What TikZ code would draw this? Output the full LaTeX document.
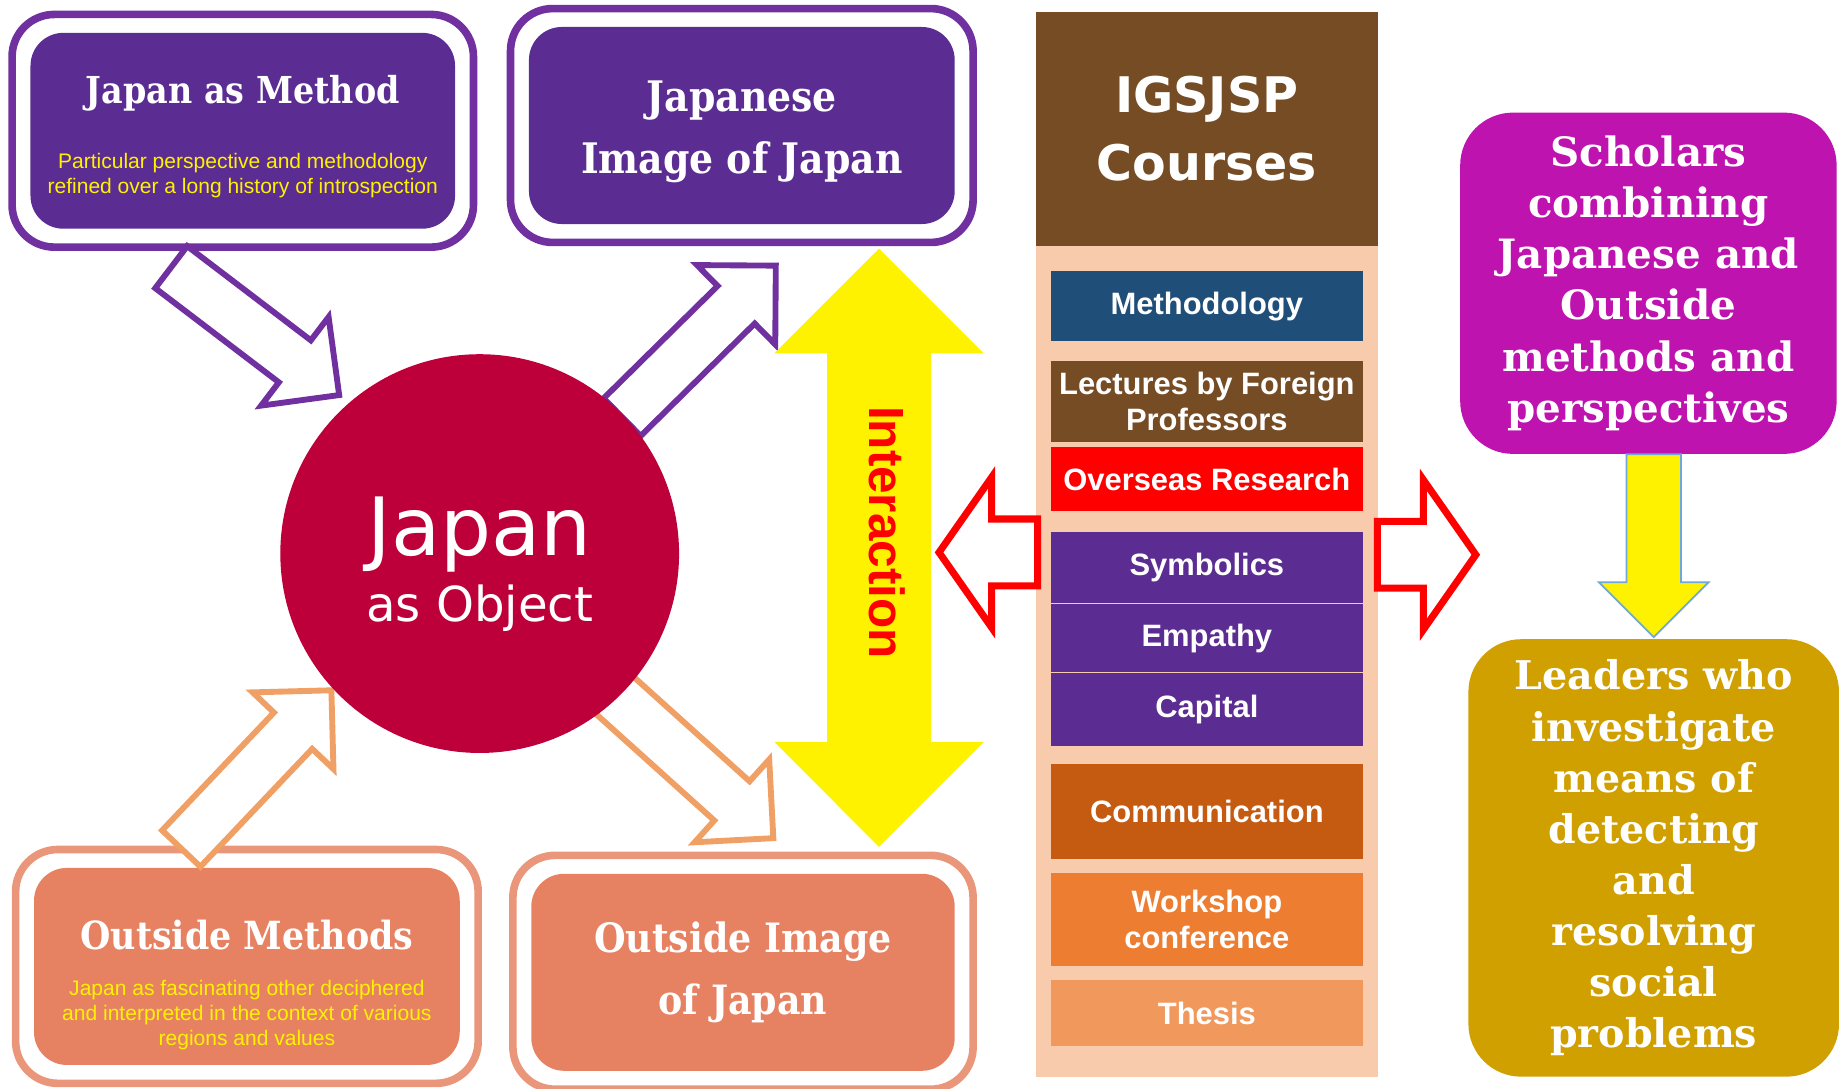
\documentclass[tikz,border=0pt]{standalone}
\usepackage{fontspec}
\setmainfont{DejaVu Serif}
\newfontfamily\serifhead[FakeStretch=0.9]{DejaVu Serif}
\newfontfamily\arialish{Liberation Sans}
\newfontfamily\verdanish{DejaVu Sans}
\usetikzlibrary{
	shapes,positioning,fit,calc
}
\definecolor{deeppurple}{HTML}{5B2C91}
\definecolor{linepurple}{HTML}{7030A0}
\definecolor{salmonfill}{HTML}{E68262}
\definecolor{salmonline}{HTML}{E9967A}
\definecolor{arrowsalmon}{HTML}{F0A064}
\definecolor{crimsonfill}{HTML}{BE003A}
\definecolor{peachfill}{HTML}{F8CBAD}
\definecolor{barkbrown}{HTML}{754C24}
\definecolor{methodblue}{HTML}{1F4E79}
\definecolor{rustfill}{HTML}{C55A11}
\definecolor{tangerine}{HTML}{ED7D31}
\definecolor{apricot}{HTML}{F1995D}
\definecolor{orchidfill}{HTML}{BE13AE}
\definecolor{mustardfill}{HTML}{D09F00}
\definecolor{paleblue}{HTML}{6FA8DC}
\newcommand{\notestyle}{\arialish\fontsize{5.1}{6.1}\selectfont}
\newcommand{\headstyle}[2]{\serifhead\bfseries\fontsize{#1}{#2}\selectfont}
\tikzset{
	auto,
	innerbox/.style={
		rectangle, rounded corners=2.8mm, inner sep=0pt, align=center, text=white
	},
	%
	outerframe/.style={
		rectangle, rounded corners=3.6mm, line width=0.65mm, inner sep=1.5mm
	},
	%
	hollowarrow/.style={
		single arrow, draw, fill=white, line width=0.5mm, inner xsep=0pt, inner ysep=2mm,
		minimum width=9mm, single arrow head extend=2.5mm, anchor=tip
	},
	%
	redarrow/.style={
		single arrow, draw=red, fill=white, line width=0.6mm, inner xsep=0pt, inner ysep=2.55mm,
		minimum width=12.2mm, single arrow head extend=3.55mm,
		single arrow tip angle=110, minimum height=8.4mm, anchor=tip
	},
	%
	course/.style={
		rectangle, inner sep=0pt, outer sep=0pt, minimum width=26.6mm, text=white, align=center,
		font=\arialish\bfseries\fontsize{7.5}{8.8}\selectfont
	},
	%
	outcome/.style={
		rectangle, rounded corners=4.5mm, inner sep=0pt, text=white, align=center,
		font=\bfseries\fontsize{9.8}{12.4}\selectfont
	}
}
\begin{document}
\begin{tikzpicture}[x=0.1mm, y=-0.1mm]
    \useasboundingbox (0,0) rectangle (1568,928);
    \node(method)[innerbox, fill=deeppurple, minimum width=36.2mm, minimum height=16.7mm, text=yellow, font=\notestyle] at (207,111.5){{\headstyle{9}{11}\color{white}\rule{0pt}{3.4mm}Japan as Method}\\[9.8pt]Particular perspective and methodology\\refined over a long history of introspection};
    \node(methodframe)[outerframe, draw=linepurple, fit=(method)]{};
    \node(image)[innerbox, fill=deeppurple, minimum width=36.3mm, minimum height=16.8mm, font=\headstyle{10.2}{15}] at (632.5,107){\rule{0pt}{3.7mm}Japanese\\Image of Japan};
    \node(imageframe)[outerframe, draw=linepurple, fit=(image)]{};
    \node(outmethods)[innerbox, fill=salmonfill, minimum width=36.3mm, minimum height=16.8mm, text=yellow, font=\notestyle] at (210.5,824){{\headstyle{9.4}{11}\color{white}\rule{0pt}{5.7mm}Outside Methods}\\[5pt]Japan as fascinating other deciphered\\and interpreted in the context of various\\regions and values};
    \node(outmethodsframe)[outerframe, draw=salmonline, fit=(outmethods)]{};
    \node(outimage)[innerbox, fill=salmonfill, minimum width=36.1mm, minimum height=16.8mm, font=\headstyle{9.8}{15}] at (633.5,829){Outside Image\\of Japan};
    \node(outimageframe)[outerframe, draw=salmonline, fit=(outimage)]{};
    \node(methodarrow)[hollowarrow, draw=linepurple, rotate=-37.3, minimum height=18mm] at (292,339){};
    \node(imagearrow)[hollowarrow, draw=linepurple, rotate=44.6, minimum height=18.4mm] at (664,224){};
    \node(outmethodsarrow)[hollowarrow, draw=arrowsalmon, rotate=46.5, minimum height=18.6mm] at (285,586){};
    \node(outimagearrow)[hollowarrow, draw=arrowsalmon, rotate=-42, minimum height=18.6mm] at (662,717){};
    \node(object)[circle, fill=crimsonfill, minimum size=34mm, inner sep=0pt, text=white, align=center, font=\verdanish\fontsize{19.5}{16.2}\selectfont] at (409,472){\rule{0pt}{6.8mm}Japan\\{\fontsize{11.7}{14}\selectfont as Object}};
    \node(courses)[rectangle, fill=barkbrown, outer sep=0pt, minimum width=29.2mm, minimum height=20mm, text=white, align=center, font=\verdanish\bfseries\fontsize{11.9}{16.5}\selectfont] at (1029,110){IGSJSP\\Courses};
    \node(panel)[rectangle, fill=peachfill, minimum width=29.2mm, minimum height=70.8mm, inner sep=0pt, outer sep=0pt, below=0pt of courses]{};
    \node(methodology)[course, fill=methodblue, minimum height=6mm, below=2.1mm of courses]{Methodology};
    \node(lectures)[course, fill=barkbrown, minimum height=6.9mm, below=1.7mm of methodology]{Lectures by Foreign\\Professors};
    \node(overseas)[course, fill=red, minimum height=5.5mm, below=0.4mm of lectures]{Overseas Research};
    \node(symbolics)[course, fill=deeppurple, minimum height=6mm, below=1.8mm of overseas]{Symbolics};
    \node(empathy)[course, fill=deeppurple, minimum height=5.8mm, below=0.1mm of symbolics]{Empathy};
    \node(capital)[course, fill=deeppurple, minimum height=6.2mm, below=0.1mm of empathy]{Capital};
    \node(communication)[course, fill=rustfill, minimum height=8.1mm, below=1.5mm of capital]{Communication};
    \node(workshop)[course, fill=tangerine, minimum height=8mm, below=1.2mm of communication]{Workshop\\conference};
    \node(thesis)[course, fill=apricot, minimum height=5.6mm, below=1.2mm of workshop]{Thesis};
    \node(exchange)[double arrow, fill=yellow, rotate=90, inner xsep=0pt, inner ysep=4.35mm, minimum height=51mm, minimum width=17.7mm, double arrow head extend=4.5mm, double arrow tip angle=90] at (749.5,467){};
    \node(interaction)[rotate=-90, text=red, font=\arialish\bfseries\fontsize{12}{12}\selectfont] at ([xshift=0.7mm, yshift=1.3mm]exchange.center){Interaction};
    \node(toexchange)[redarrow, rotate=180] at (797,471){};
    \node(toscholars)[redarrow] at (1262,473){};
    \node(scholars)[outcome, fill=orchidfill, minimum width=32.1mm, minimum height=29.1mm] at (1405.5,241.5){Scholars\\combining\\Japanese and\\Outside\\methods and\\perspectives};
    \node(leaders)[outcome, fill=mustardfill, minimum width=31.6mm, minimum height=37.3mm, font=\bfseries\fontsize{9.6}{12.4}\selectfont] at (1410,731.5){Leaders who\\investigate\\means of\\detecting\\and\\resolving\\social\\problems};
    \node(scholarsarrow)[single arrow, rotate=-90, anchor=tip, fill=yellow, draw=paleblue, line width=0.15mm, inner xsep=0pt, inner ysep=2.25mm, minimum width=9.2mm, single arrow head extend=2.35mm, minimum height=15.6mm] at (leaders.north){};
\end{tikzpicture}
\end{document}
